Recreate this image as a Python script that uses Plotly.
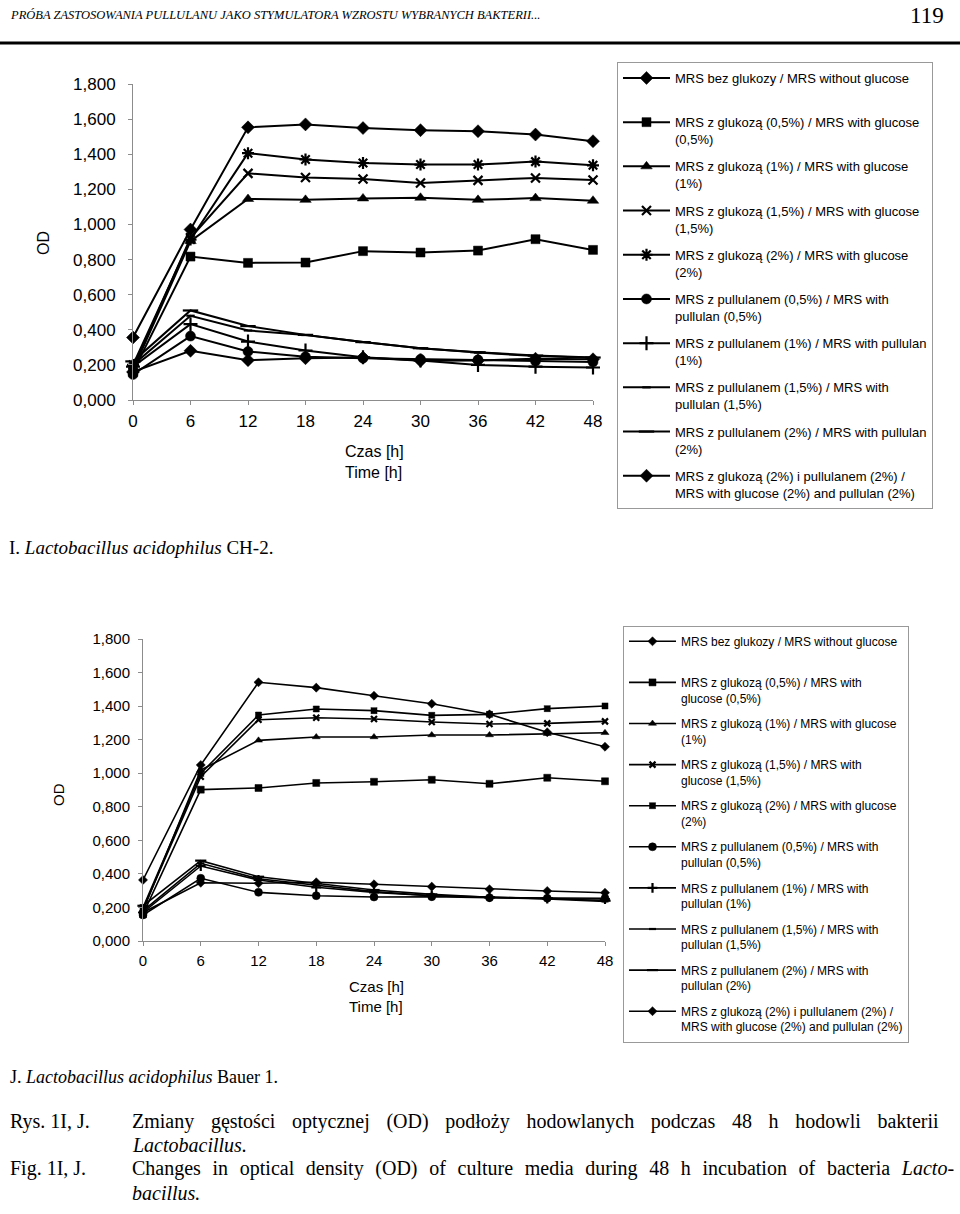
import plotly.graph_objects as go

# ---------------- data ----------------
hours = [0, 6, 12, 18, 24, 30, 36, 42, 48]
y_tickvals = [0, 0.2, 0.4, 0.6, 0.8, 1.0, 1.2, 1.4, 1.6, 1.8]
y_ticktext = ["0,000", "0,200", "0,400", "0,600", "0,800", "1,000", "1,200", "1,400", "1,600", "1,800"]

# Chart I: Lactobacillus acidophilus CH-2
I_no_glucose = [0.16, 0.28, 0.227, 0.238, 0.242, 0.223, 0.225, 0.235, 0.232]
I_glc05 = [0.16, 0.817, 0.781, 0.783, 0.848, 0.840, 0.851, 0.916, 0.855]
I_glc1 = [0.17, 0.905, 1.145, 1.140, 1.148, 1.152, 1.140, 1.150, 1.135]
I_glc15 = [0.18, 0.924, 1.291, 1.267, 1.259, 1.236, 1.251, 1.265, 1.253]
I_glc2 = [0.20, 0.914, 1.406, 1.370, 1.350, 1.341, 1.341, 1.358, 1.337]
I_pul05 = [0.145, 0.364, 0.276, 0.246, 0.238, 0.232, 0.229, 0.221, 0.217]
I_pul1 = [0.19, 0.432, 0.333, 0.282, 0.243, 0.225, 0.200, 0.190, 0.185]
I_pul15 = [0.20, 0.480, 0.396, 0.370, 0.330, 0.295, 0.270, 0.250, 0.240]
I_pul2 = [0.22, 0.510, 0.421, 0.371, 0.330, 0.295, 0.272, 0.253, 0.242]
I_glc2_pul2 = [0.356, 0.971, 1.553, 1.570, 1.549, 1.537, 1.531, 1.512, 1.474]

# Chart J: Lactobacillus acidophilus Bauer 1
J_no_glucose = [0.17, 0.347, 0.344, 0.350, 0.338, 0.324, 0.308, 0.298, 0.288]
J_glc05 = [0.16, 0.902, 0.912, 0.942, 0.949, 0.961, 0.937, 0.973, 0.952]
J_glc1 = [0.18, 1.019, 1.196, 1.216, 1.216, 1.228, 1.228, 1.236, 1.241]
J_glc15 = [0.19, 0.979, 1.319, 1.331, 1.323, 1.305, 1.293, 1.297, 1.309]
J_glc2 = [0.20, 0.999, 1.347, 1.383, 1.373, 1.345, 1.351, 1.385, 1.401]
J_pul05 = [0.155, 0.374, 0.290, 0.270, 0.262, 0.264, 0.258, 0.255, 0.255]
J_pul1 = [0.17, 0.447, 0.364, 0.320, 0.290, 0.270, 0.262, 0.252, 0.250]
J_pul15 = [0.18, 0.463, 0.371, 0.332, 0.294, 0.270, 0.262, 0.250, 0.236]
J_pul2 = [0.21, 0.479, 0.383, 0.344, 0.304, 0.278, 0.260, 0.255, 0.240]
J_glc2_pul2 = [0.364, 1.049, 1.542, 1.510, 1.462, 1.414, 1.351, 1.244, 1.158]

names_I = [
    "MRS bez glukozy / MRS without glucose<br>\u00a0",
    "MRS z glukozą (0,5%) / MRS with glucose<br>(0,5%)",
    "MRS z glukozą (1%) / MRS with glucose<br>(1%)",
    "MRS z glukozą (1,5%) / MRS with glucose<br>(1,5%)",
    "MRS z glukozą (2%) / MRS with glucose<br>(2%)",
    "MRS z pullulanem (0,5%) / MRS with<br>pullulan (0,5%)",
    "MRS z pullulanem (1%) / MRS with pullulan<br>(1%)",
    "MRS z pullulanem (1,5%) / MRS with<br>pullulan (1,5%)",
    "MRS z pullulanem (2%) / MRS with pullulan<br>(2%)",
    "MRS z glukozą (2%) i pullulanem (2%) /<br>MRS with glucose (2%) and pullulan (2%)",
]
names_J = [
    "MRS bez glukozy / MRS without glucose<br>\u00a0",
    "MRS z glukozą (0,5%) / MRS with<br>glucose (0,5%)",
    "MRS z glukozą (1%) / MRS with glucose<br>(1%)",
    "MRS z glukozą (1,5%) / MRS with<br>glucose (1,5%)",
    "MRS z glukozą (2%) / MRS with glucose<br>(2%)",
    "MRS z pullulanem (0,5%) / MRS with<br>pullulan (0,5%)",
    "MRS z pullulanem (1%) / MRS with<br>pullulan (1%)",
    "MRS z pullulanem (1,5%) / MRS with<br>pullulan (1,5%)",
    "MRS z pullulanem (2%) / MRS with<br>pullulan (2%)",
    "MRS z glukozą (2%) i pullulanem (2%) /<br>MRS with glucose (2%) and pullulan (2%)",
]
series_I = [I_no_glucose, I_glc05, I_glc1, I_glc15, I_glc2, I_pul05, I_pul1, I_pul15, I_pul2, I_glc2_pul2]
series_J = [J_no_glucose, J_glc05, J_glc1, J_glc15, J_glc2, J_pul05, J_pul1, J_pul15, J_pul2, J_glc2_pul2]

# ---------------- styles ----------------
symbols_I = ["diamond", "square", "triangle-up", "x-thin-open", "asterisk-open",
             "circle", "cross-thin-open", "line-ew-open", "line-ew-open", "diamond"]
sizes_I = [10, 9, 10, 9, 10, 10, 10, 6, 11, 10]
symbols_J = ["diamond", "square", "triangle-up", "x-thin-open", "square-x",
             "circle", "cross-thin-open", "line-ew-open", "line-ew-open", "diamond"]
sizes_J = [7, 7, 7, 6, 6, 8, 7, 5, 8, 7]

W, H = 960, 1214
def px(x):
    return x / W
def py(y):
    return 1 - y / H

SANS = "Liberation Sans, Arial, sans-serif"
SERIF = "Liberation Serif, Times New Roman, serif"

fig = go.Figure()

def add_series(series, names, symbols, sizes, xa, ya, legend, lw):
    for i, (vals, nm, sym, sz) in enumerate(zip(series, names, symbols, sizes)):
        openish = sym.endswith("-open")
        fig.add_trace(go.Scatter(
            x=hours, y=vals, name=nm, mode="lines+markers",
            xaxis=xa, yaxis=ya, legend=legend, legendgroup=f"{legend}_{i}",
            line=dict(color="black", width=lw),
            marker=dict(symbol=sym, size=sz, color="black",
                        line=dict(color="black", width=2.2 if openish else 0.5)),
            cliponaxis=False,
        ))

add_series(series_I, names_I, symbols_I, sizes_I, "x", "y", "legend", 2)
add_series(series_J, names_J, symbols_J, sizes_J, "x2", "y2", "legend2", 1.6)

axis_common = dict(showline=True, linecolor="#8c8c8c", linewidth=1, ticks="outside",
                   ticklen=4, tickcolor="#8c8c8c", showgrid=False, zeroline=False,
                   color="black", automargin=False)

fig.update_layout(
    template="none",
    width=W, height=H, margin=dict(l=0, r=0, t=0, b=0, pad=0, autoexpand=False),
    paper_bgcolor="white", plot_bgcolor="white",
    font=dict(family=SANS, color="black"),
    xaxis=dict(domain=[px(133), px(593)], range=[0, 48], tickvals=hours, anchor="y",
               tickfont=dict(size=17, family=SANS), ticklabelstandoff=2, **axis_common),
    yaxis=dict(domain=[py(400), py(84)], range=[0, 1.8], tickvals=y_tickvals,
               ticktext=y_ticktext, anchor="x", tickfont=dict(size=17, family=SANS),
               ticklabelstandoff=9, **axis_common),
    xaxis2=dict(domain=[px(143), px(605)], range=[0, 48], tickvals=hours, anchor="y2",
                tickfont=dict(size=15, family=SANS), ticklabelstandoff=2, **axis_common),
    yaxis2=dict(domain=[py(941), py(639)], range=[0, 1.8], tickvals=y_tickvals,
                ticktext=y_ticktext, anchor="x2", tickfont=dict(size=15, family=SANS),
                ticklabelstandoff=5, **axis_common),
    legend=dict(x=px(617), y=py(62), xanchor="left", yanchor="top", xref="paper", yref="paper",
                bordercolor="#999999", borderwidth=1, bgcolor="white",
                font=dict(size=13, family=SANS), itemwidth=47, tracegroupgap=7.4,
                valign="top", traceorder="grouped"),
    legend2=dict(x=px(623), y=py(626), xanchor="left", yanchor="top", xref="paper", yref="paper",
                 bordercolor="#999999", borderwidth=1, bgcolor="white",
                 font=dict(size=12, family=SANS), itemwidth=47, tracegroupgap=6.9,
                 valign="top", traceorder="grouped"),
    showlegend=True,
)

def note(text, x, y, size, family, xanchor="left", angle=0, align="left", style="normal"):
    return dict(text=text, x=px(x), y=py(y), xref="paper", yref="paper",
                xanchor=xanchor, yanchor="middle", textangle=angle, align=align,
                showarrow=False, font=dict(family=family, size=size, style=style, color="black"))

caption_pl = "Zmiany gęstości optycznej (OD) podłoży hodowlanych podczas 48 h hodowli bakterii"
caption_en = "Changes in optical density (OD) of culture media during 48 h incubation of bacteria"

ann = [
    note("PRÓBA ZASTOSOWANIA PULLULANU JAKO STYMULATORA WZROSTU WYBRANYCH BAKTERII...",
         8, 15, 12.5, SERIF, style="italic"),
    note("119", 946, 15, 23, SERIF, xanchor="right"),
    note("OD", 43, 243, 16, SANS, xanchor="center", angle=-90),
    note("Czas [h]<br>Time [h]", 343, 462, 16, SANS),
    note("OD", 58, 795, 15, SANS, xanchor="center", angle=-90),
    note("Czas [h]<br>Time [h]", 347, 996, 15, SANS),
    note("I. <i>Lactobacillus acidophilus</i> CH-2.", 7, 547, 19, SERIF),
    note("J. <i>Lactobacillus acidophilus</i> Bauer 1.", 8, 1077, 18, SERIF),
    note("Rys. 1I, J.", 8, 1121, 20, SERIF),
    note(caption_pl.replace(" ", " \u2002\u200a"), 130, 1121, 20, SERIF),
    note("<i>Lactobacillus.</i>", 130, 1145, 20, SERIF),
    note("Fig. 1I, J.", 8, 1168, 20, SERIF),
    note(caption_en.replace(" ", "\u2002\u200a") + "\u2002\u200a<i>Lacto-</i>", 130, 1168, 20, SERIF),
    note("<i>bacillus.</i>", 130, 1193, 20, SERIF),
]
fig.update_layout(annotations=ann)

fig.add_shape(type="line", xref="paper", yref="paper", x0=0, x1=1, y0=py(43), y1=py(43),
              line=dict(color="black", width=3))

fig.write_html("out.html", config={"displayModeBar": False, "staticPlot": True},
               post_script="document.body.style.margin='0px';")
